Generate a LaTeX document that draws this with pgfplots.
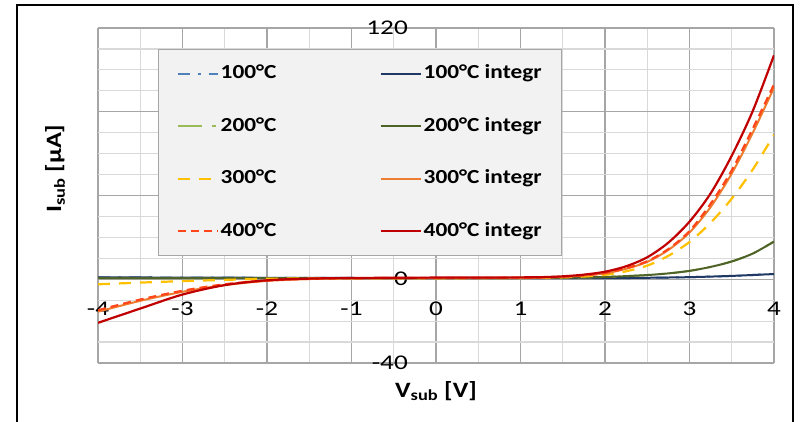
\documentclass[border=0pt]{standalone}
\usepackage{pgfplots}
\pgfplotsset{compat=1.18}
\usepackage{fontspec}
\setmainfont{Carlito}
\newfontfamily\tickfont[FakeStretch=1.3]{Carlito}
\newfontfamily\legfont[FakeStretch=1.17]{Carlito}
\newfontfamily\labfont[FakeStretch=1.2]{Carlito}
\definecolor{c100}{HTML}{4F81BD}
\definecolor{c100i}{HTML}{1F3864}
\definecolor{c200}{HTML}{9BBB59}
\definecolor{c200i}{HTML}{4F6228}
\definecolor{c300}{HTML}{FFC000}
\definecolor{c300i}{HTML}{ED7D31}
\definecolor{c400}{HTML}{FF4519}
\definecolor{c400i}{HTML}{C00000}
\definecolor{gmaj}{HTML}{A6A6A6}
\definecolor{gmin}{HTML}{D9D9D9}
\definecolor{legbg}{HTML}{F2F2F2}
\begin{document}
\begin{tikzpicture}
\useasboundingbox (-98bp,-59bp) rectangle (703bp,363bp);
\begin{axis}[
  scale only axis, width=676bp, height=335bp,
  xmin=-4, xmax=4, ymin=-40, ymax=120,
  xtick={-4,-3,-2,-1,0,1,2,3,4},
  xticklabels={-4,-3,-2,-1,0,1,2,3,4},
  ytick={-40,0,40,80,120},
  yticklabels={-40,0,40,80,120},
  minor x tick num=1, minor y tick num=3,
  grid=both,
  major grid style={gmaj, line width=1.2bp},
  minor grid style={gmin, line width=1.2bp},
  major tick length=0pt, minor tick length=0pt,
  axis line style={draw=none},
  xticklabel style={font=\fontsize{21}{21}\tickfont, anchor=center, yshift=54bp, inner sep=0pt},
  yticklabel style={font=\fontsize{21}{21}\tickfont, anchor=east, xshift=310bp, inner sep=0pt},
  xlabel={V\textsubscript{sub} [V]},
  xlabel style={at={(axis description cs:0.5,-0.084)}, anchor=center, font=\fontsize{22}{22}\labfont\bfseries},
  ylabel={I\textsubscript{sub} [µA]},
  ylabel style={at={(axis description cs:-0.0636,0.58)}, anchor=center, font=\fontsize{22}{22}\labfont\bfseries},
  legend columns=2,
  legend image code/.code={\draw[#1] (0bp,0bp) -- (40bp,0bp);},
  legend style={at={(axis description cs:0.0888,0.937)}, anchor=north west,
    fill=legbg, draw=gmaj, line width=1bp,
    font=\fontsize{20}{20}\legfont\bfseries,
    inner xsep=18bp, inner ysep=13bp,
    row sep=30.5bp,
    nodes={inner sep=2bp, text height=14bp, text depth=4bp},
    /tikz/every even column/.append style={column sep=101bp}},
]
\addplot[c100, line width=2bp, dash pattern=on 12bp off 8bp on 3bp off 8bp, smooth] coordinates {(-4,0.9) (-3,0.8) (-2,0.7) (-1,0.6) (0,0.5) (1,0.5) (2,0.5) (2.5,0.7) (3,1.0) (3.5,1.6) (4,2.5)};
\addlegendentry{100°C}
\addplot[c100i, line width=2bp, smooth] coordinates {(-4,0.9) (-3,0.8) (-2,0.7) (-1,0.6) (0,0.5) (1,0.5) (2,0.5) (2.5,0.7) (3,1.0) (3.5,1.6) (4,2.5)};
\addlegendentry{100°C integr}
\addplot[c200, line width=2bp, dash pattern=on 24bp off 10bp on 4bp off 10bp, smooth] coordinates {(-4,0.5) (-3,0.5) (-2,0.5) (-1,0.5) (0,0.5) (1,0.6) (1.5,0.7) (2,1.1) (2.25,1.5) (2.5,2.0) (2.75,2.8) (3,4.0) (3.25,5.9) (3.5,8.5) (3.75,12.3) (4,18)};
\addlegendentry{200°C}
\addplot[c200i, line width=2bp, smooth] coordinates {(-4,0.5) (-3,0.5) (-2,0.5) (-1,0.5) (0,0.5) (1,0.6) (1.5,0.7) (2,1.1) (2.25,1.5) (2.5,2.0) (2.75,2.8) (3,4.0) (3.25,5.9) (3.5,8.5) (3.75,12.3) (4,18)};
\addlegendentry{200°C integr}
\addplot[c300, line width=2.2bp, dash pattern=on 12bp off 9bp, smooth] coordinates {(-4,-2.4) (-3.5,-1.6) (-3,-0.9) (-2.5,-0.3) (-2,0.2) (-1.5,0.4) (-1,0.5) (0,0.5) (1,0.6) (1.25,0.7) (1.5,0.9) (1.75,1.3) (2,2.1) (2.25,3.8) (2.5,6.5) (2.75,11.2) (3,17.8) (3.25,27) (3.5,38.5) (3.75,52.5) (4,69)};
\addlegendentry{300°C}
\addplot[c300i, line width=2bp, smooth] coordinates {(-4,-15.5) (-3.5,-10.3) (-3,-6) (-2.5,-2.8) (-2,-0.8) (-1.5,0.1) (-1,0.4) (0,0.5) (1,0.6) (1.25,0.8) (1.5,1.1) (1.75,1.8) (2,2.8) (2.25,5.0) (2.5,8.3) (2.75,14) (3,22.3) (3.25,34.5) (3.5,50.5) (3.75,70) (4,91.5)};
\addlegendentry{300°C integr}
\addplot[c400, line width=2.2bp, dash pattern=on 8bp off 5bp, smooth] coordinates {(-4,-14.8) (-3.5,-9.7) (-3,-5.5) (-2.5,-2.4) (-2,-0.6) (-1.5,0.2) (-1,0.5) (0,0.6) (1,0.7) (1.25,0.9) (1.5,1.2) (1.75,1.9) (2,3.0) (2.25,5.3) (2.5,8.6) (2.75,14.4) (3,23) (3.25,36) (3.5,52) (3.75,72) (4,93)};
\addlegendentry{400°C}
\addplot[c400i, line width=2.2bp, smooth] coordinates {(-4,-20.8) (-3.5,-14) (-3,-7.3) (-2.5,-2.8) (-2,-0.5) (-1.5,0.3) (-1,0.6) (0,0.8) (1,0.9) (1.25,1.0) (1.5,1.4) (1.75,2.2) (2,3.6) (2.25,6.2) (2.5,10.5) (2.75,17.5) (3,27.5) (3.25,41) (3.5,59) (3.75,80.5) (4,107)};
\addlegendentry{400°C integr}
\end{axis}
\draw[black, line width=2.2bp] (-81bp,-90bp) rectangle (695bp,358bp);
\end{tikzpicture}
\end{document}
